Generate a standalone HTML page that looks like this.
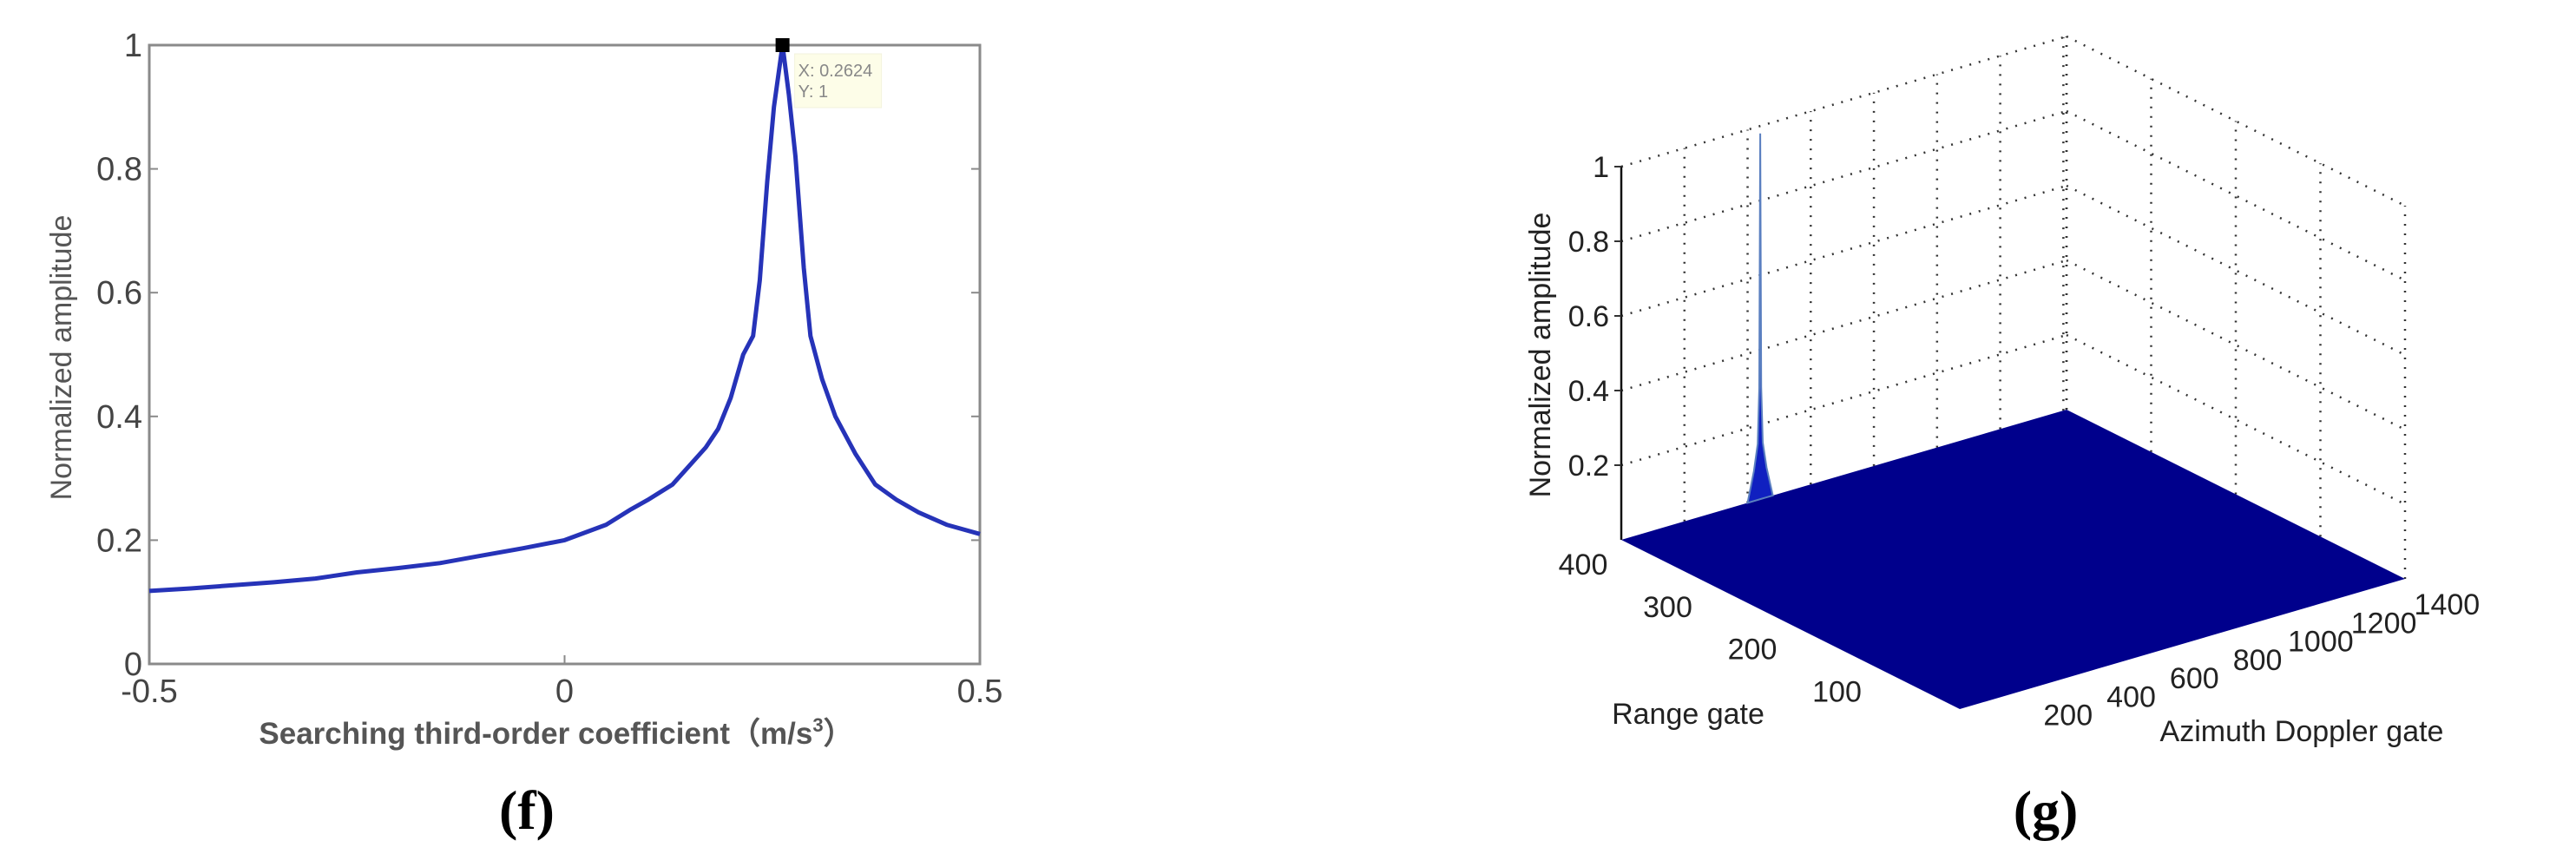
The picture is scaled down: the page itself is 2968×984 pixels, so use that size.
<!DOCTYPE html>
<html><head><meta charset="utf-8"><style>
html,body{margin:0;padding:0;background:#fff;}
svg{display:block;}
text{font-family:"Liberation Sans",sans-serif;}
text.serif{font-family:"Liberation Serif",serif;font-weight:bold;}
</style></head><body>
<svg id="fig" width="2968" height="984" viewBox="0 0 2968 984" xmlns="http://www.w3.org/2000/svg">
<g id="left"></g>
<g id="right"></g>
<text class="serif" x="607" y="955" font-size="64" text-anchor="middle" fill="#000">(f)</text>
<text class="serif" x="2357" y="955" font-size="64" text-anchor="middle" fill="#000">(g)</text>
</svg>
<script>
// ---- left chart data ----
const coefX = [-0.5,-0.45,-0.4,-0.35,-0.3,-0.25,-0.2,-0.15,-0.1,-0.05,0,0.05,0.08,0.1,0.13,0.15,0.17,0.185,0.2,0.215,0.227,0.235,0.244,0.252,0.2624,0.27,0.278,0.288,0.296,0.31,0.326,0.35,0.374,0.4,0.426,0.46,0.5];
const ampY = [0.118,0.122,0.127,0.132,0.138,0.148,0.155,0.163,0.175,0.187,0.2,0.225,0.25,0.265,0.29,0.32,0.35,0.38,0.43,0.5,0.53,0.62,0.78,0.9,1.0,0.92,0.82,0.64,0.53,0.46,0.4,0.34,0.29,0.265,0.245,0.225,0.21];
const xTicks = [-0.5,0,0.5];
const xTickLabels = ["-0.5","0","0.5"];
const yTicks = [0,0.2,0.4,0.6,0.8,1];
const yTickLabels = ["0","0.2","0.4","0.6","0.8","1"];
const peakX = 0.2624, peakY = 1;
// ---- right chart data ----
const rangeTicks = [100,200,300,400];
const rangeTickLabels = ["100","200","300","400"];
const azTicks = [200,400,600,800,1000,1200,1400];
const azTickLabels = ["200","400","600","800","1000","1200","1400"];
const zTicks = [0.2,0.4,0.6,0.8,1];
const zTickLabels = ["0.2","0.4","0.6","0.8","1"];
const spikeRange = 400, spikeAz = 440;
const spikeOffsets = [-40,-20,-8,-3,0,3,8,20,40];
const spikeZ = [0,0.08,0.15,0.3,0.98,0.3,0.15,0.08,0];

const NS="http://www.w3.org/2000/svg";
function mk(tag,attrs,parent,txt){const e=document.createElementNS(NS,tag);for(const k in attrs)e.setAttribute(k,attrs[k]);if(txt!==undefined)e.textContent=txt;parent.appendChild(e);return e;}

// ===== left chart =====
const L=document.getElementById('left');
const X0=172,X1=1129,Y0=765,Y1=52;
const sx=v=>X0+(v+0.5)*(X1-X0);
const sy=v=>Y0-v*(Y0-Y1);
let box=mk('rect',{x:X0,y:Y1,width:X1-X0,height:Y0-Y1,fill:'none',stroke:'#8a8a8a','stroke-width':3},L);


xTicks.forEach((t,i)=>{
  let tk=mk('line',{x1:sx(t),x2:sx(t),y1:Y0,y2:Y0-10,stroke:'#8a8a8a','stroke-width':2},L);
  
  
  let lb=mk('text',{x:sx(t),y:Y0+44,'font-size':38,'text-anchor':'middle',fill:'#444'},L,xTickLabels[i]);
  
  
});
yTicks.forEach((t,i)=>{
  let tk=mk('line',{x1:X0,x2:X0+10,y1:sy(t),y2:sy(t),stroke:'#8a8a8a','stroke-width':2},L);
  
  
  let tk2=mk('line',{x1:X1,x2:X1-10,y1:sy(t),y2:sy(t),stroke:'#8a8a8a','stroke-width':2},L);
  
  
  let lb=mk('text',{x:X0-8,y:sy(t)+13,'font-size':38,'text-anchor':'end',fill:'#444'},L,yTickLabels[i]);
  
  
});
let pts=coefX.map((v,i)=>sx(v).toFixed(1)+','+sy(ampY[i]).toFixed(1)).join(' ');
let ln=mk('polyline',{points:pts,fill:'none',stroke:'#2633b8','stroke-width':5,'stroke-linejoin':'round'},L);


let tip=mk('rect',{x:sx(peakX)+14,y:sy(peakY)+10,width:100,height:62,fill:'#fdfde8',stroke:'#f2f2dc'},L);


let t1=mk('text',{x:sx(peakX)+18,y:sy(peakY)+36,'font-size':20,fill:'#888'},L,'X: 0.2624');


let t2=mk('text',{x:sx(peakX)+18,y:sy(peakY)+60,'font-size':20,fill:'#888'},L,'Y: 1');


let mkr=mk('rect',{x:sx(peakX)-8,y:sy(peakY)-8,width:16,height:16,fill:'#000'},L);


let xt=mk('text',{x:641,y:857,'font-size':35,'text-anchor':'middle',fill:'#555','font-weight':'bold'},L);


mk('tspan',{},xt,'Searching third-order coefficient（m/s');
mk('tspan',{'font-size':22,dy:-14},xt,'3');
mk('tspan',{dy:14},xt,'）');
let yt=mk('text',{x:0,y:0,'font-size':34,'text-anchor':'middle',fill:'#555',transform:'translate(82,412) rotate(-90)'},L,'Normalized amplitude');



// ===== right chart =====
const R=document.getElementById('right');
const FR={x:2258,y:817}, RMAX=400, AMAX=1410, ZH=430;
function P(r,a,z){return {x:FR.x-390*r/RMAX+513*a/AMAX, y:FR.y-195*r/RMAX-150*a/AMAX-z*ZH};}
const dot={stroke:'#333','stroke-width':2.5,'stroke-dasharray':'2 9',fill:'none'};
function seg(p,q,name){let e=mk('line',Object.assign({x1:p.x,y1:p.y,x2:q.x,y2:q.y},dot),R);return e;}
zTicks.forEach(z=>{
  seg(P(RMAX,0,z),P(RMAX,AMAX,z),'z-grid-left-wall');
  seg(P(RMAX,AMAX,z),P(0,AMAX,z),'z-grid-right-wall');
});
azTicks.forEach(a=>{seg(P(RMAX,a,0),P(RMAX,a,1),'az-grid-wall');});
rangeTicks.concat([0]).forEach(r=>{seg(P(r,AMAX,0),P(r,AMAX,1),'range-grid-wall');});
seg(P(RMAX,AMAX,0),P(RMAX,AMAX,1),'back-corner-grid');
const c1=P(RMAX,0,0),c2=P(0,0,0),c3=P(0,AMAX,0),c4=P(RMAX,AMAX,0);
let fl=mk('polygon',{points:[c1,c2,c3,c4].map(p=>p.x+','+p.y).join(' '),fill:'#00008c'},R);


let sp=spikeOffsets.map((o,i)=>P(spikeRange,spikeAz+o,spikeZ[i]));
let spk=mk('polygon',{points:sp.map(p=>p.x.toFixed(1)+','+p.y.toFixed(1)).join(' '),fill:'#1020c0',stroke:'#5a7fc0','stroke-width':2},R);


const z0=P(RMAX,0,0), z1=P(RMAX,0,1);
let za=mk('line',{x1:z0.x,y1:z0.y,x2:z1.x,y2:z1.y,stroke:'#111','stroke-width':2.5},R);


zTicks.forEach((z,i)=>{
  const p=P(RMAX,0,z);
  let tk=mk('line',{x1:p.x-8,y1:p.y,x2:p.x,y2:p.y,stroke:'#333','stroke-width':2},R);
  
  
  let lb=mk('text',{x:p.x-14,y:p.y+12,'font-size':34,'text-anchor':'end',fill:'#222'},R,zTickLabels[i]);
  
  
});
rangeTicks.forEach((r,i)=>{
  const p=P(r,0,0);
  let lb=mk('text',{x:p.x-44,y:p.y+40,'font-size':34,'text-anchor':'middle',fill:'#222'},R,rangeTickLabels[i]);
  
  
});
azTicks.forEach((a,i)=>{
  const p=P(0,a,0);
  let lb=mk('text',{x:p.x+52,y:p.y+40,'font-size':34,'text-anchor':'middle',fill:'#222'},R,azTickLabels[i]);
  
  
});
let rt=mk('text',{x:1945,y:834,'font-size':34,'text-anchor':'middle',fill:'#222'},R,'Range gate');


let at=mk('text',{x:2652,y:854,'font-size':34,'text-anchor':'middle',fill:'#222'},R,'Azimuth Doppler gate');


let zt=mk('text',{x:0,y:0,'font-size':34,'text-anchor':'middle',fill:'#222',transform:'translate(1786,409) rotate(-90)'},R,'Normalized amplitude');


</script>
</body></html>
